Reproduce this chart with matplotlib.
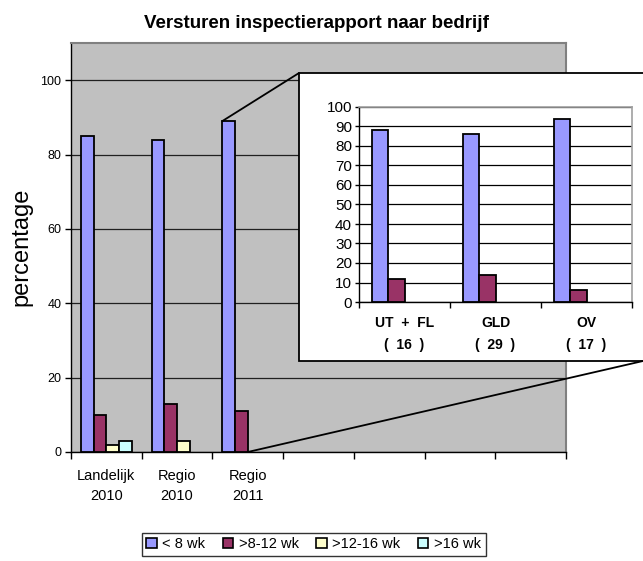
import matplotlib.pyplot as plt
from matplotlib.patches import Rectangle, ConnectionPatch

plt.rcParams['font.family'] = ['Liberation Sans', 'DejaVu Sans']

# main chart data (7 category slots, only the first three are filled)
categories = ["Landelijk\n2010", "Regio\n2010", "Regio\n2011", "", "", "", ""]
series_names = ["< 8 wk", ">8-12 wk", ">12-16 wk", ">16 wk"]
lt8 = [85, 84, 89]
w8_12 = [10, 13, 11]
w12_16 = [2, 3, 0]
gt16 = [3, 0, 0]

# inset data (Regio 2011 per district)
regions = ["UT  +  FL\n(  16  )", "GLD\n(  29  )", "OV\n(  17  )"]
reg_lt8 = [88, 86, 94]
reg_8_12 = [12, 14, 6]

colors = ['#9999FF', '#993366', '#FFFFCC', '#CCFFFF']
W, H = 643, 561
bw = 0.18


def fx(px):
    return px / W


def fy(py):
    return 1 - py / H


def draw_group(axis, series_list):
    # grouped bars, 4 slots per category; zero values are left out
    for i, vals in enumerate(series_list):
        xs = [k + (i - 1.5) * bw for k, v in enumerate(vals) if v > 0]
        hs = [v for v in vals if v > 0]
        axis.bar(xs, hs, width=bw, color=colors[i], edgecolor='black',
                 linewidth=1.3, zorder=3)


fig = plt.figure(figsize=(W / 100, H / 100), dpi=100)

# --- main axes ---
ax = fig.add_axes([fx(71), fy(452), fx(566 - 71), (452 - 43) / H])
ax.set_facecolor('#C0C0C0')
draw_group(ax, [lt8, w8_12, w12_16, gt16])

ax.set_xlim(-0.5, len(categories) - 0.5)
ax.set_ylim(0, 110)
ax.set_yticks(range(0, 101, 20))
ax.yaxis.grid(True, color='#202020', linewidth=0.9, zorder=1)
ax.tick_params(axis='y', labelsize=9, length=4, width=1, pad=3)
ax.set_xticks([k - 0.5 for k in range(len(categories) + 1)])
ax.set_xticklabels([])
ax.set_xticks(range(len(categories)), minor=True)
ax.set_xticklabels(categories, minor=True, fontsize=10.5, linespacing=1.55)
ax.tick_params(axis='x', which='major', length=5, width=1)
ax.tick_params(axis='x', which='minor', length=0, pad=12)
for s in ['top', 'right']:
    ax.spines[s].set_color('#808080')
    ax.spines[s].set_linewidth(1.5)
for s in ['left', 'bottom']:
    ax.spines[s].set_color('black')
    ax.spines[s].set_linewidth(1)

fig.text(fx(316), fy(24), "Versturen inspectierapport naar bedrijf",
         ha='center', va='center', fontsize=13.5, fontweight='bold')
fig.text(fx(21), fy(247), "percentage", rotation=90, ha='center',
         va='center', fontsize=17)

# --- inset box and zoom lines ---
box = Rectangle((fx(299), fy(361)), fx(360), (361 - 73) / H,
                transform=fig.transFigure, facecolor='white',
                edgecolor='black', linewidth=1.3, zorder=5)
fig.patches.append(box)

con1 = ConnectionPatch(xyA=(2 - 2 * bw, lt8[2]), coordsA=ax.transData,
                       xyB=(fx(299), fy(73)), coordsB=fig.transFigure,
                       color='black', linewidth=1.3, zorder=6)
con2 = ConnectionPatch(xyA=(2, 0), coordsA=ax.transData,
                       xyB=(fx(643), fy(361)), coordsB=fig.transFigure,
                       color='black', linewidth=1.3, zorder=6)
fig.add_artist(con1)
fig.add_artist(con2)

# --- inset axes ---
ax2 = fig.add_axes([fx(359), fy(302), fx(632 - 359), (302 - 107) / H])
ax2.set_zorder(7)
ax2.set_facecolor('white')
draw_group(ax2, [reg_lt8, reg_8_12])
ax2.set_xlim(-0.5, len(regions) - 0.5)
ax2.set_ylim(0, 100)
ax2.set_yticks(range(0, 101, 10))
ax2.yaxis.grid(True, color='black', linewidth=0.9, zorder=1)
ax2.tick_params(axis='y', labelsize=11, length=3, width=1, pad=2)
ax2.set_xticks([k - 0.5 for k in range(len(regions) + 1)])
ax2.set_xticklabels([])
ax2.set_xticks(range(len(regions)), minor=True)
ax2.set_xticklabels(regions, minor=True, fontsize=10, fontweight='bold',
                    linespacing=1.75)
ax2.tick_params(axis='x', which='minor', length=0, pad=10)
ax2.tick_params(axis='x', which='major', length=4, width=1)
for s in ['top', 'right']:
    ax2.spines[s].set_color('#A0A0A0')
    ax2.spines[s].set_linewidth(1.2)
for s in ['left', 'bottom']:
    ax2.spines[s].set_color('black')
    ax2.spines[s].set_linewidth(1)

# --- legend ---
handles = [Rectangle((0, 0), 1, 1, facecolor=c, edgecolor='black',
                     linewidth=1.2) for c in colors]
leg = fig.legend(handles, series_names, loc='upper left',
                 bbox_to_anchor=(fx(142), fy(533)), ncol=4, fontsize=10.5,
                 frameon=True, fancybox=False, edgecolor='black',
                 handlelength=0.7, handleheight=0.7, handletextpad=0.4,
                 columnspacing=1.2, borderpad=0.3, borderaxespad=0)
leg.get_frame().set_linewidth(1)

fig.savefig('out.png', dpi=100)
